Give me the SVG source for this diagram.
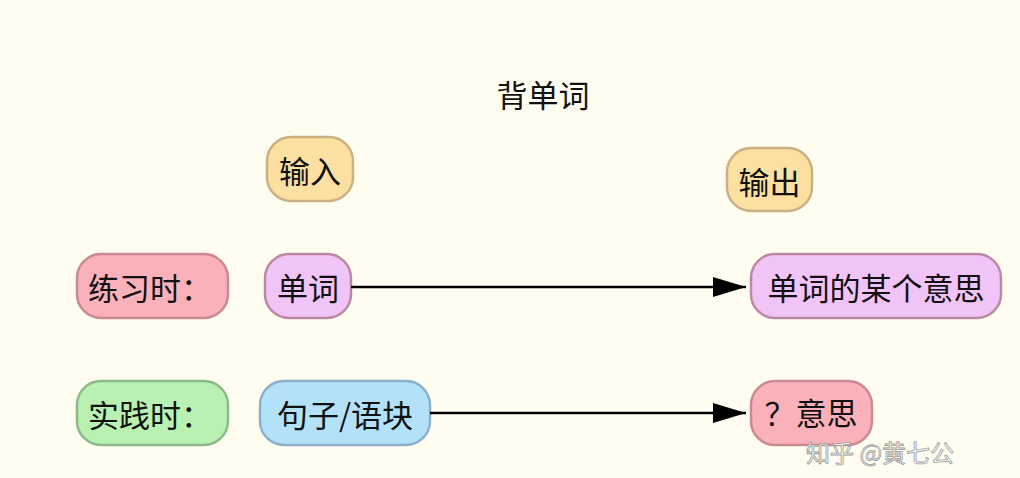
<svg xmlns="http://www.w3.org/2000/svg" width="1020" height="478" viewBox="0 0 1020 478">
<style>
text{font-family:"Noto Sans CJK SC","Noto Sans",sans-serif;font-size:31px;fill:#111;text-anchor:middle;dominant-baseline:central}
.box{stroke-width:2.5}
.pink{fill:#fbb1b9;stroke:#c98a92}
.purple{fill:#f1c4f8;stroke:#bb8aa2}
.green{fill:#b9f1b3;stroke:#8cb98c}
.blue{fill:#b2e1f8;stroke:#8ab1c8}
.orange{fill:#fbe0a2;stroke:#c9b183}
.conn{stroke:#000;stroke-width:2.5;fill:none}
text.wm{font-size:24px;fill:#fff;stroke:#999;stroke-width:0.8;text-anchor:start;dominant-baseline:alphabetic}
</style>
<defs>
<marker id="arr" markerWidth="34" markerHeight="20" refX="33" refY="10" orient="auto" markerUnits="userSpaceOnUse">
<path d="M0,0 L33,10 L0,20 Z" fill="#000"/>
</marker>
</defs>
<rect width="1020" height="478" fill="#fffcf0"/>
<g id="title"><text x="543" y="93">背单词</text></g>
<g id="n-input"><rect class="box orange" x="267" y="137" width="86" height="64" rx="24"/><text x="310" y="169">输入</text></g>
<g id="n-output"><rect class="box orange" x="727" y="148" width="85" height="63" rx="24"/><text x="769.5" y="180">输出</text></g>
<g id="n-practice"><rect class="box pink" x="77" y="254" width="151" height="64" rx="24"/><text x="150" y="286">练习时：</text></g>
<g id="n-word"><rect class="box purple" x="265" y="254" width="86" height="64" rx="24"/><text x="308" y="286">单词</text></g>
<g id="n-meaning"><rect class="box purple" x="751" y="254" width="250" height="64" rx="24"/><text x="876" y="286">单词的某个意思</text></g>
<g id="n-use"><rect class="box green" x="77" y="381" width="151" height="64" rx="24"/><text x="150" y="413">实践时：</text></g>
<g id="n-sentence"><rect class="box blue" x="260" y="381" width="170" height="64" rx="24"/><text x="345" y="413">句子/语块</text></g>
<g id="n-unknown"><rect class="box pink" x="751" y="381" width="121" height="64" rx="24"/><text x="811" y="411">？意思</text></g>
<g id="connectors">
<line class="conn" x1="351" y1="287" x2="746" y2="287" marker-end="url(#arr)"/>
<line class="conn" x1="430" y1="413" x2="746" y2="413" marker-end="url(#arr)"/>
</g>
<text class="wm" x="806" y="462">知乎 @黄七公</text>
</svg>
